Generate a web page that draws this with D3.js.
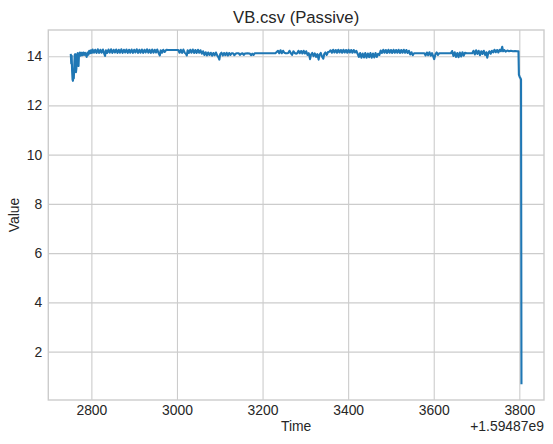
<!DOCTYPE html>
<html>
<head>
<meta charset="utf-8">
<script src="https://cdn.jsdelivr.net/npm/d3@7"></script>
<style>
  body { margin: 0; background: #fff; }
  text { font-family: "Liberation Sans", Arial, sans-serif; fill: #262626; }
</style>
</head>
<body>
<div id="chart"></div>
<script>
// time offsets (seconds after 1.59487e9) and the measured value
const startReadings = [
  [2752,14.05],[2753,13.7],[2754,14.02],[2755,13.4],[2756,13.05],[2757,13.0],[2758,13.25],[2759,13.1],
  [2760,13.6],[2761,14.05],[2762,14.08],[2763,13.7],[2764,13.35],[2765,13.5],[2766,14.05],[2768,14.12],
  [2769,13.75],[2770,13.6],[2771,14.05],[2773,14.15],[2775,14.02],[2777,14.14],[2779,14.04],[2781,14.15],
  [2783,14.05],[2785,14.14],[2787,14.06],[2789,13.97],[2791,14.15],[2793,14.06],[2795,14.22],[2797,14.12],
  [2799,14.24]
];
const plateauReadings = [
  [2801,14.13],[2803,14.27],[2806,14.14],[2809,14.26],[2812,14.13],[2815,14.28],[2818,14.13],[2821,14.26],
  [2824,14.14],[2827,14.27],[2830,14.1],[2832,14.01],[2834,14.24],[2837,14.13],[2840,14.27],[2843,14.14],
  [2846,14.28],[2849,14.13],[2852,14.26],[2855,14.15],[2858,14.27],[2861,14.13],[2864,14.26],[2867,14.14],
  [2870,14.28],[2873,14.13],[2876,14.26],[2879,14.15],[2882,14.27],[2885,14.13],[2888,14.26],[2891,14.14],
  [2894,14.27],[2897,14.13],[2900,14.26],[2903,14.15],[2906,14.28],[2909,14.13],[2912,14.26],[2915,14.14],
  [2918,14.27],[2921,14.13],[2924,14.26],[2927,14.15],[2930,14.28],[2933,14.14],[2936,14.26],[2939,14.13],
  [2942,14.27],[2945,14.14],[2948,14.26],[2951,14.15],[2954,14.27],[2957,14.13],[2960,14.03],[2962,14.24],
  [2965,14.14],[2968,14.26],[2971,14.17],[2975,14.26],[2980,14.25],[2990,14.25],[3000,14.25],[3003,14.25],
  [3006,14.14],[3009,14.26],[3012,14.13],[3015,14.27],[3018,14.14],[3021,14.1],[3023,14.03],[3025,14.24],
  [3028,14.13],[3031,14.26],[3034,14.14],[3037,14.27],[3040,14.13],[3043,14.25],[3046,14.13],[3049,14.26],
  [3052,14.14],[3055,14.24]
];
const middleReadings = [
  [3058,14.1],[3061,14.2],[3064,14.05],[3067,14.16],[3070,14.03],[3073,14.15],[3076,14.05],[3079,14.14],
  [3082,14.02],[3085,14.13],[3088,14.04],[3091,14.15],[3094,14.03],[3097,13.95],[3099,13.86],[3101,14.08],
  [3104,14.14],[3107,14.03],[3110,14.13],[3113,14.04],[3116,14.14],[3119,14.03],[3122,14.13],[3125,14.05],
  [3128,14.12],[3131,14.12],[3134,14.04],[3137,14.1],[3140,14.12],[3144,14.12],[3147,14.05],[3150,14.1],
  [3153,14.12],[3156,14.05],[3159,14.11],[3165,14.12],[3170,14.11],[3173,14.04],[3176,14.1],[3179,14.05],
  [3182,14.12],[3200,14.12],[3215,14.12],[3230,14.12],
  [3236,14.22],[3239,14.12],[3242,14.24],[3245,14.12],[3248,14.22],[3251,14.14],[3254,14.12],[3257,14.12],
  [3260,14.13],[3263,14.22],[3266,14.12],[3269,14.05],[3272,14.2],[3275,14.13],[3278,14.1],[3281,14.12],
  [3284,14.22],[3287,14.12],[3290,14.21],[3293,14.11],[3296,14.22],[3299,14.11],[3302,14.2],[3305,14.05],
  [3308,14.12],[3311,13.88],[3313,14.05],[3316,14.13],[3319,14.0],[3322,14.11],[3325,13.97],[3328,14.08],
  [3331,13.86],[3333,14.05],[3336,14.13],[3339,13.98],[3342,13.9],[3344,14.08],[3347,14.15],[3350,14.05],
  [3353,14.17],[3356,14.18],[3359,14.24],[3362,14.14],[3365,14.26],[3368,14.15],[3371,14.25],[3374,14.14],
  [3377,14.26],[3380,14.15],[3383,14.25],[3386,14.14],[3389,14.26],[3392,14.15],[3395,14.25],[3398,14.14],
  [3401,14.26],[3404,14.15],[3407,14.25],[3410,14.14],[3413,14.25],[3416,14.15],[3419,14.22],[3422,14.1],
  [3425,13.97],[3428,14.13],[3431,13.94],[3434,14.11],[3437,13.95],[3440,14.13],[3443,13.94],[3446,14.11],
  [3449,13.96],[3452,14.13],[3455,13.94],[3458,14.11],[3461,13.95],[3464,14.13],[3467,13.97],[3470,14.1],
  [3473,14.05],[3476,14.23],[3479,14.13],[3482,14.26],[3485,14.14],[3488,14.25],[3491,14.13],[3494,14.26],
  [3497,14.14],[3500,14.25],[3503,14.13],[3506,14.26],[3509,14.14],[3512,14.25],[3515,14.14],[3518,14.26],
  [3521,14.13],[3524,14.25],[3527,14.14],[3530,14.26],[3533,14.14],[3536,14.25],[3539,14.13],[3542,14.22]
];
const endReadings = [
  [3545,14.07],[3548,14.16],[3551,14.04],[3554,14.12],[3560,14.12],[3570,14.12],[3578,14.12],[3581,14.03],
  [3584,14.15],[3587,14.04],[3590,14.16],[3593,14.02],[3596,14.12],[3599,13.98],[3601,13.88],[3604,14.08],
  [3607,14.15],[3610,14.05],[3613,14.12],[3620,14.12],[3630,14.12],[3640,14.12],[3643,14.21],[3646,14.01],
  [3649,14.16],[3652,13.97],[3655,14.13],[3658,13.96],[3661,14.15],[3664,13.99],[3667,14.16],[3670,14.02],
  [3673,14.14],[3677,14.12],[3685,14.12],[3690,14.12],[3693,14.22],[3696,14.07],[3699,14.24],[3702,14.09],
  [3705,14.22],[3708,14.04],[3711,14.2],[3714,14.09],[3717,14.22],[3720,14.05],[3723,14.16],[3725,13.94],
  [3727,14.1],[3730,14.2],[3733,14.1],[3736,14.22],[3739,14.15],[3742,14.26],[3745,14.16],[3748,14.25],
  [3751,14.15],[3754,14.26],[3757,14.2],[3760,14.38],[3762,14.2],[3765,14.25],[3768,14.18],[3772,14.23],
  [3776,14.2],[3780,14.22],[3785,14.2],[3790,14.21],[3795,14.2],[3798,14.2],[3799,13.25],[3801,13.15],
  [3803,13.1],[3804,13.05],[3805,0.72]
];
const xTicks = [2800, 3000, 3200, 3400, 3600, 3800];
const yTicks = [2, 4, 6, 8, 10, 12, 14];

const data = [...startReadings, ...plateauReadings, ...middleReadings, ...endReadings];

const width = 553, height = 444;
const plotLeft = 48.3, plotRight = 544, plotTop = 30, plotBottom = 400;

// matplotlib style 5% margins
const xExt = d3.extent(data, d => d[0]);
const yExt = d3.extent(data, d => d[1]);
const xPad = (xExt[1] - xExt[0]) * 0.05;
const yPad = (yExt[1] - yExt[0]) * 0.05;

const x = d3.scaleLinear().domain([xExt[0] - xPad, xExt[1] + xPad]).range([plotLeft, plotRight]);
const y = d3.scaleLinear().domain([yExt[0] - yPad, yExt[1] + yPad]).range([plotBottom, plotTop]);

const svg = d3.select("#chart").append("svg")
  .attr("width", width)
  .attr("height", height);

// grid
svg.append("g")
  .attr("transform", "translate(0," + plotBottom + ")")
  .call(d3.axisBottom(x).tickValues(xTicks).tickFormat(d3.format("d"))
    .tickSize(-(plotBottom - plotTop)).tickPadding(5))
  .call(g => g.select(".domain").remove())
  .call(g => g.selectAll("line").attr("stroke", "#cccccc").attr("stroke-width", 1.1))
  .call(g => g.selectAll("text").style("font-size", "13.9px").attr("fill", "#262626"));

svg.append("g")
  .attr("transform", "translate(" + plotLeft + ",0)")
  .call(d3.axisLeft(y).tickValues(yTicks).tickFormat(d3.format("d"))
    .tickSize(-(plotRight - plotLeft)).tickPadding(6))
  .call(g => g.select(".domain").remove())
  .call(g => g.selectAll("line").attr("stroke", "#cccccc").attr("stroke-width", 1.1))
  .call(g => g.selectAll("text").style("font-size", "13.9px").attr("fill", "#262626"));

// spines
svg.append("rect")
  .attr("x", plotLeft).attr("y", plotTop)
  .attr("width", plotRight - plotLeft).attr("height", plotBottom - plotTop)
  .attr("fill", "none")
  .attr("stroke", "#cccccc")
  .attr("stroke-width", 1.4);

const line = d3.line()
  .x(d => x(d[0]))
  .y(d => y(d[1]));

svg.append("path")
  .datum(data)
  .attr("d", line)
  .attr("fill", "none")
  .attr("stroke", "#1f77b4")
  .attr("stroke-width", 2.1)
  .attr("stroke-linejoin", "round")
  .attr("stroke-linecap", "square");

svg.append("text")
  .attr("x", (plotLeft + plotRight) / 2)
  .attr("y", 23)
  .attr("text-anchor", "middle")
  .style("font-size", "16.7px")
  .text("VB.csv (Passive)");

svg.append("text")
  .attr("x", (plotLeft + plotRight) / 2)
  .attr("y", 430.5)
  .attr("text-anchor", "middle")
  .style("font-size", "13.9px")
  .text("Time");

svg.append("text")
  .attr("x", plotRight)
  .attr("y", 430.5)
  .attr("text-anchor", "end")
  .style("font-size", "13.9px")
  .text("+1.59487e9");

svg.append("text")
  .attr("transform", "translate(19," + (plotTop + plotBottom) / 2 + ") rotate(-90)")
  .attr("text-anchor", "middle")
  .style("font-size", "13.9px")
  .text("Value");
</script>
</body>
</html>
